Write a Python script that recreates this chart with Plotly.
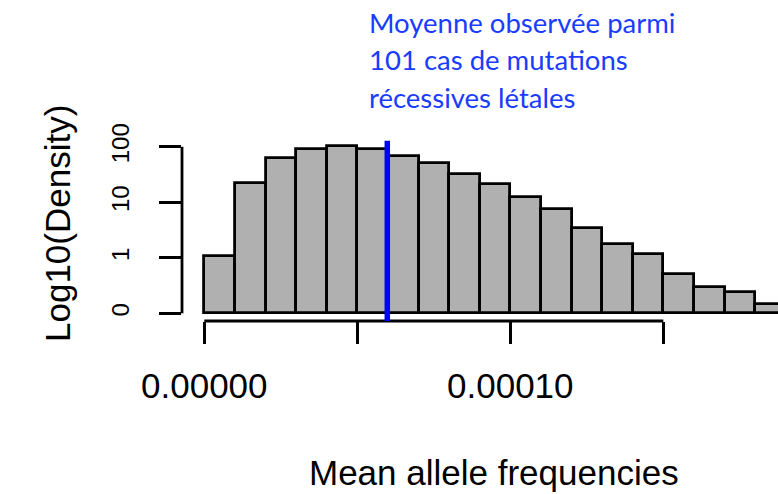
import numpy as np
import plotly.graph_objects as go

# Histogram of mean allele frequencies (bin width 1e-5), density on a log10 scale
bin_width = 0.00001
bin_starts = [i * bin_width for i in range(19)]
density = [1.08, 22.0, 63.7, 91.3, 102.0, 90.0, 69.0, 51.0, 32.7, 21.6,
           12.6, 7.57, 3.49, 1.80, 1.16, 0.51, 0.30, 0.24, 0.15]

observed_mean = 0.0000598  # mean over the 101 recessive lethal cases

x_tick_vals = [0.0, 0.00005, 0.00010, 0.00015]
x_tick_text = ["0.00000", "", "0.00010", ""]
y_tick_density = [0.1, 1, 10, 100]
y_tick_text = ["0", "1", "10", "100"]

annotation_lines = ["Moyenne observée parmi", "101 cas de mutations", "récessives létales"]

# ---- page geometry (pixels) ----
W, H = 778, 494
ML, MR, MT, MB = 182, 0, 120, 173
x_zero_px = 204.3          # where 0 sits horizontally
px_per_unit = 3.06e6       # horizontal pixels per frequency unit
y_base_px = 313.3          # baseline of the bars (log10 = -1)
px_per_decade = 55.5

plot_w = W - ML - MR
plot_h = H - MT - MB
x_range = [(ML - x_zero_px) / px_per_unit, (W - MR - x_zero_px) / px_per_unit]
log_floor = np.log10(y_tick_density[0])
y_range = [log_floor - ((H - MB) - y_base_px) / px_per_decade,
           log_floor + (y_base_px - MT) / px_per_decade]


def paper_x(px):
    return (px - ML) / plot_w


def paper_y(py):
    return (H - MB - py) / plot_h


log_d = np.log10(density)
centers = [s + bin_width / 2 for s in bin_starts]

fig = go.Figure()
fig.add_trace(go.Bar(
    x=centers,
    y=log_d - log_floor,
    base=log_floor,
    width=bin_width,
    marker=dict(color="#b0b0b0", line=dict(color="black", width=2.8)),
    showlegend=False,
    hoverinfo="skip",
))

shapes = [
    # x axis line spanning first to last tick
    dict(type="line", xref="x", yref="paper", x0=x_tick_vals[0], x1=x_tick_vals[-1],
         y0=0, y1=0, line=dict(color="black", width=2.8)),
    # y axis line spanning first to last tick
    dict(type="line", xref="paper", yref="y", x0=0, x1=0,
         y0=np.log10(y_tick_density[0]), y1=np.log10(y_tick_density[-1]),
         line=dict(color="black", width=2.8)),
    # observed mean
    dict(type="line", xref="x", yref="y", x0=observed_mean, x1=observed_mean,
         y0=y_range[0], y1=2.11, line=dict(color="#0000ff", width=5.5)),
]

annotations = []
for i, line in enumerate(annotation_lines):
    annotations.append(dict(
        text=line, xref="paper", yref="paper", x=paper_x(367), y=paper_y(22 + 37.5 * i),
        xanchor="left", yanchor="middle", showarrow=False,
        font=dict(family="Lato, sans-serif", size=27.5, color="#1a3cff"),
    ))
annotations.append(dict(
    text="Mean allele frequencies", xref="paper", yref="paper",
    x=paper_x(494), y=paper_y(472), xanchor="center", yanchor="middle", showarrow=False,
    font=dict(family="Liberation Sans, Arial, sans-serif", size=35, color="black"),
))
annotations.append(dict(
    text="Log10(Density)", xref="paper", yref="paper", textangle=-90,
    x=paper_x(57), y=paper_y(224), xanchor="center", yanchor="middle", showarrow=False,
    font=dict(family="Liberation Sans, Arial, sans-serif", size=35, color="black"),
))

fig.update_layout(
    width=W, height=H,
    margin=dict(l=ML, r=MR, t=MT, b=MB, pad=0),
    paper_bgcolor="white", plot_bgcolor="white",
    bargap=0,
    shapes=shapes,
    annotations=annotations,
    xaxis=dict(
        range=x_range, showgrid=False, zeroline=False, showline=False,
        tickmode="array", tickvals=x_tick_vals, ticktext=x_tick_text,
        ticks="outside", ticklen=22, tickwidth=2.8, tickcolor="black",
        ticklabelstandoff=12,
        tickfont=dict(family="Liberation Sans, Arial, sans-serif", size=35, color="black"),
    ),
    yaxis=dict(
        range=y_range, showgrid=False, zeroline=False, showline=False,
        tickmode="array", tickvals=list(np.log10(y_tick_density)), ticktext=y_tick_text,
        tickangle=-90,
        ticks="outside", ticklen=22, tickwidth=2.8, tickcolor="black",
        ticklabelstandoff=20,
        tickfont=dict(family="Liberation Sans, Arial, sans-serif", size=24, color="black"),
    ),
)

fig.write_html("out.html")
